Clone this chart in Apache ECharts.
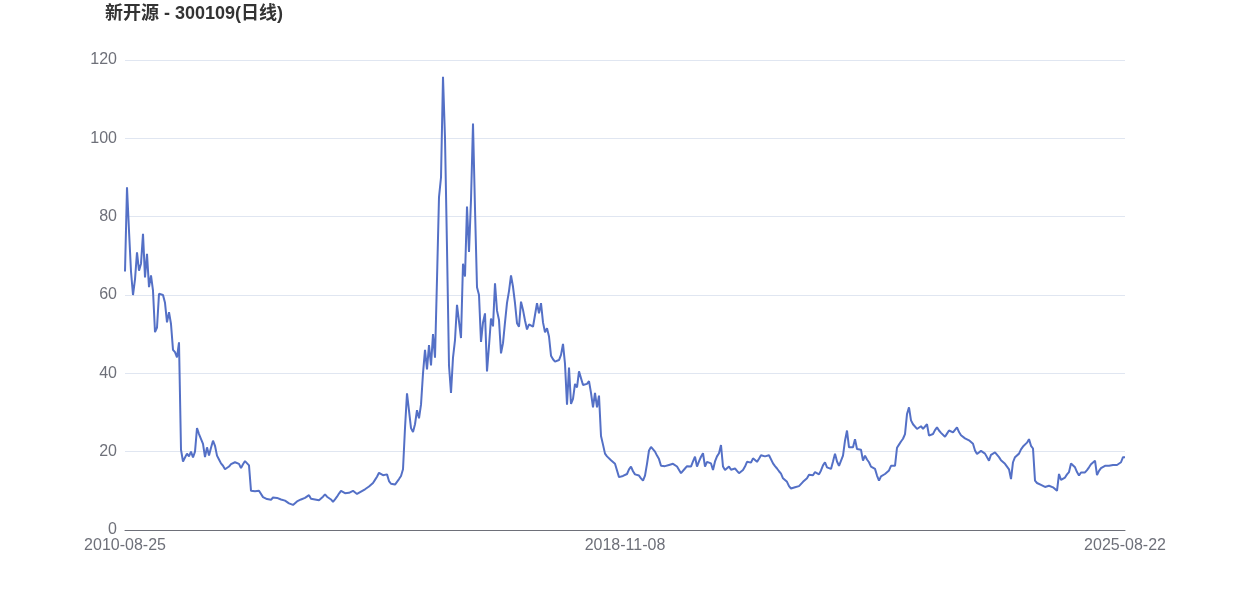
<!DOCTYPE html>
<html>
<head>
<meta charset="utf-8">
<script src="https://cdn.jsdelivr.net/npm/echarts@6/dist/echarts.min.js"></script>
<style>html,body{margin:0;padding:0;background:#fff}#c{width:1250px;height:600px}</style>
</head>
<body>
<div id="c"></div>
<script>
const titleText = '新开源 - 300109(日线)';
const tickLabels = ['2010-08-25', '2018-11-08', '2025-08-22'];
const yTicks = [0, 20, 40, 60, 80, 100, 120];
const prices = [
  66, 87.5, 76.4, 66, 60, 64, 70.9, 66.2, 68, 75.6,
  64.5, 70.5, 62, 65, 61.1, 50.5, 51.7, 60.3, 60, 60,
  58, 53, 55.6, 52.6, 46, 45.4, 44.1, 47.9, 20.5, 17.5,
  18.5, 19.5, 18.8, 20, 18.5, 20, 26, 24.5, 24, 22,
  18.6, 21.1, 19, 21, 22.8, 21.5, 19, 18, 17, 16.4,
  15.5, 15.5, 16.2, 16.8, 17, 17.3, 17.7, 16.9, 15.8, 16.8,
  17.6, 17.8, 16.5, 10, 10, 9.9, 10, 10, 9.5, 8.4,
  8.1, 7.9, 7.8, 7.7, 8.3, 8.8, 8.2, 7.9, 7.8, 7.7,
  7.5, 7.1, 6.8, 6.3, 6.4, 6.8, 7.3, 7.8, 7.8, 7.5,
  8.2, 8.7, 8.9, 8, 7.8, 7.8, 7.7, 7.6, 7.7, 8.5,
  9.1, 8.5, 8, 7.8, 7.2, 7.8, 8.5, 9.3, 10, 9.7,
  9.4, 9.3, 9.5, 9.8, 10, 9.6, 9.2, 9.5, 9.8, 10,
  10.4, 10.8, 11.1, 11.5, 12, 12.8, 13.6, 14.6, 14.2, 14,
  14.1, 14.2, 12.5, 11.8, 11.5, 11.6, 11.9, 13, 13.8, 15.5,
  26, 34.9, 30.5, 26, 25, 27, 30.6, 28.5, 32, 40,
  46, 41, 47.2, 42, 50, 44, 64, 85, 90, 115.7,
  100, 72, 42, 35, 44, 48.5, 57.5, 57, 49, 68,
  64.7, 82.6, 71, 84.3, 103.8, 82, 62, 60, 48, 53,
  55.3, 40.5, 47, 54, 52, 63, 56, 53.6, 45.1, 47.7,
  53, 58, 61, 65, 62.1, 57.9, 52.8, 51.9, 58.3, 56.2,
  53.5, 51.2, 52.5, 52.5, 51.9, 54.9, 57.9, 55.3, 57.9, 53,
  50.5, 51.5, 49.4, 44.5, 43.6, 43, 42.6, 43.4, 44.7, 47.5,
  42.4, 32, 41.5, 32.2, 33.5, 37.3, 36.4, 40.5, 40, 37,
  36.5, 37.3, 38, 35, 31.3, 35, 31.3, 34.3, 24, 21.8,
  19.5, 18.8, 18.5, 17.8, 17.3, 16.9, 17.3, 13.5, 13.1, 13.8,
  14.3, 14.3, 15.5, 16.2, 15, 14.2, 13.9, 13.9, 13.2, 12.6,
  13.9, 16.9, 20.3, 21.2, 21, 20, 19, 18.1, 16.4, 16.9,
  16.3, 16.4, 16.6, 16.6, 16.9, 16.8, 16.2, 15.7, 14.5, 15,
  15.7, 16.3, 16.5, 16.2, 17.5, 18.7, 16.2, 17.5, 18.7, 19.6,
  16.2, 17.4, 17.2, 17, 15.3, 17.5, 18.8, 19.6, 21.7, 16.2,
  15.3, 15.8, 16.2, 15.4, 15.3, 15.7, 15.1, 14.5, 14.8, 15.3,
  16.2, 17.4, 17.1, 17.2, 18.3, 17.8, 17.4, 18.2, 19.1, 18.7,
  18.8, 19.1, 19.1, 18.6, 17, 16.3, 15.7, 15, 14.4, 13.2,
  12.8, 12.3, 11.2, 10.6, 11.1, 10.9, 10.6, 11.2, 11.7, 12.3,
  12.8, 13.2, 14.1, 14.5, 14, 14.8, 15.3, 14.2, 15.2, 16.5,
  17.3, 16, 16, 15.6, 17.5, 19.5, 17.5, 16.4, 16.4, 19,
  22.8, 25.4, 21.1, 21.5, 21.1, 23.2, 20.7, 21.1, 20.5, 17.7,
  19, 18, 17.3, 16.2, 15.8, 15.6, 13.9, 12.6, 13.7, 14,
  14.3, 14.8, 15.2, 16.4, 16.4, 16.4, 21, 21.8, 22.6, 23.3,
  24.5, 29.6, 31.3, 28, 27, 27.3, 25.8, 26.2, 26.5, 25.8,
  25.6, 27, 24.1, 23.8, 24.5, 25.5, 26.2, 25.4, 24.8, 24.5,
  23.8, 24.6, 25.4, 25.1, 24.9, 24.5, 26.2, 25, 24.2, 23.7,
  23.4, 23.9, 22.9, 22.4, 22, 20.3, 19.4, 19.9, 20.2, 19.8,
  19.5, 19.2, 17.7, 19.2, 19.6, 19.8, 19.3, 18.6, 17.8, 17.3,
  16.9, 16.4, 15.5, 13, 17.3, 18.6, 19, 19.5, 20.6, 21.3,
  21.7, 22.3, 23.2, 21.5, 20.8, 12.6, 12, 11.6, 11.5, 11.3,
  11, 11, 11.3, 11.1, 10.9, 10.5, 10, 14.3, 12.8, 13,
  13.4, 14.2, 14.8, 17, 16.8, 16, 14.8, 13.9, 14.7, 14.7,
  14.7, 15.3, 16, 16.8, 17.3, 17.7, 14, 15.1, 15.8, 16.2,
  16.4, 16.4, 16.4, 16.9, 16.6, 16.4, 16.6, 16.9, 17.3, 18.6,
  18.6
];

// category labels: dates spread between the known tick dates
const n = prices.length;
const mid = Math.floor((n - 1) / 2);
function fmt(d) {
  const p = x => String(x).padStart(2, '0');
  return d.getUTCFullYear() + '-' + p(d.getUTCMonth() + 1) + '-' + p(d.getUTCDate());
}
const tDates = tickLabels.map(s => Date.parse(s + 'T00:00:00Z'));
const categories = [];
for (let i = 0; i < n; i++) {
  if (i === 0) { categories.push(tickLabels[0]); continue; }
  if (i === mid) { categories.push(tickLabels[1]); continue; }
  if (i === n - 1) { categories.push(tickLabels[2]); continue; }
  const seg = i < mid ? 0 : 1;
  const span = seg === 0 ? mid : (n - 1 - mid);
  const f = (i - seg * mid) / span;
  categories.push(fmt(new Date(tDates[seg] + f * (tDates[seg + 1] - tDates[seg]))));
}

const chart = echarts.init(document.getElementById('c'), null, { renderer: 'canvas' });
chart.setOption({
  animation: false,
  backgroundColor: '#ffffff',
  textStyle: { fontFamily: '"Liberation Sans", "Noto Sans CJK SC", sans-serif' },
  title: {
    text: titleText,
    left: 100,
    top: 0,
    textStyle: { fontSize: 18, fontWeight: 'bold', color: '#333333',
      fontFamily: '"Liberation Sans", "Noto Sans CJK SC", sans-serif' }
  },
  grid: { left: 125, right: 125, top: 60, bottom: 70, containLabel: false },
  xAxis: {
    type: 'category',
    data: categories,
    boundaryGap: false,
    axisLine: { lineStyle: { color: '#6e7079' } },
    axisTick: { show: false },
    axisLabel: { interval: mid - 1, fontSize: 16, color: '#6e7079', margin: 8 },
    splitLine: { show: false }
  },
  yAxis: {
    type: 'value',
    min: yTicks[0],
    max: yTicks[yTicks.length - 1],
    interval: yTicks[1] - yTicks[0],
    axisLabel: { fontSize: 16, color: '#6e7079', margin: 8 },
    axisLine: { show: false },
    axisTick: { show: false },
    splitLine: { lineStyle: { color: '#e0e6f1' } }
  },
  series: [{
    type: 'line',
    data: prices,
    showSymbol: false,
    symbol: 'none',
    lineStyle: { color: '#5470c6', width: 2 },
    itemStyle: { color: '#5470c6' }
  }]
});
</script>
</body>
</html>
